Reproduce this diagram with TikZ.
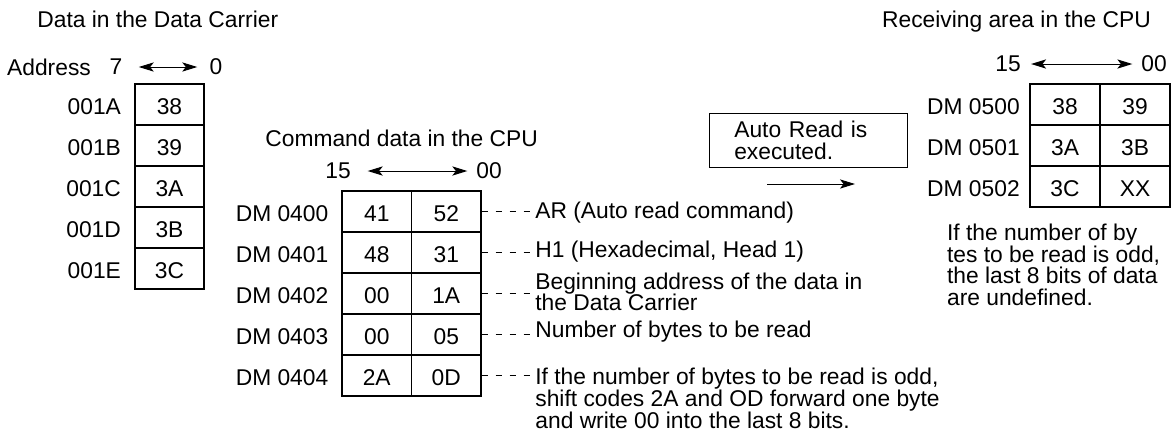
\documentclass[tikz,border=0pt]{standalone}
\usepackage{fontspec}
\setmainfont{Liberation Sans}
\usetikzlibrary{arrows.meta,positioning}
\tikzset{
  cell/.style   = {draw, line width=0.7pt, inner sep=0pt, minimum height=20.5pt,
                   text height=10.2pt, text depth=0pt},
  lcell/.style  = {cell, minimum width=34.5pt},
  ccell/.style  = {cell, minimum width=34.75pt},
  rcell/.style  = {cell, minimum width=35pt},
  addr/.style   = {inner sep=0pt, text height=10.2pt, text depth=0pt},
  bitno/.style  = {inner sep=0pt},
  txt/.style    = {inner sep=0pt, anchor=base west},
  note/.style   = {inner xsep=1.5pt, inner ysep=0pt, anchor=base west, align=left},
  lead/.style   = {line width=0.5pt, dash pattern=on 3pt off 4pt},
  bits/.style   = {{Stealth[length=7.5pt, width=4.6pt, inset=1.8pt]}-{Stealth[length=7.5pt, width=4.6pt, inset=1.8pt]},
                   line width=0.5pt},
  readbox/.style= {draw, line width=0.6pt, align=left, text width=74pt, inner xsep=12.5pt,
                   inner ysep=0pt, minimum height=27.2pt},
}
\begin{document}
\begin{tikzpicture}[x=0.5pt, y=-0.5pt, font=\fontsize{11.4}{10.8}\selectfont]
\useasboundingbox (0,0) rectangle (1171,430);

% data carrier
\node[txt] (dctitle) at (37,27.3) {Data in the Data Carrier};
\node[bitno] (adr) at (49,67) {Address};
\node[bitno] (l7) at (116,67) {7};
\node[bitno] (l0) at (216,67) {0};
\draw[bits, shorten <=8pt, shorten >=6pt] (l7.east) -- (l0.west);
\foreach \v/\a [count=\i] in {38/001A, 39/001B, 3A/001C, 3B/001D, 3C/001E} {
  \node[lcell] (L\i) at (169.5, 84+41*\i-20.5) {\v};
  \node[addr, left=6.5pt of L\i] (La\i) {\a};
}

% command data
\node[txt] (cmdtitle) at (265,146) {Command data in the CPU};
\node[bitno] (c15) at (338,171) {15};
\node[bitno] (c00) at (489,171) {00};
\draw[bits, shorten <=8.3pt, shorten >=4.3pt] (c15.east) -- (c00.west);
\foreach \hi/\lo/\dm [count=\i] in {41/52/0400, 48/31/0401, 00/1A/0402, 00/05/0403, 2A/0D/0404} {
  \node[ccell] (Ch\i) at (376.75, 191+41*\i-20.5) {\hi};
  \node[ccell] (Cl\i) at (446.25, 191+41*\i-20.5) {\lo};
  \node[addr, left=6.3pt of Ch\i] (Cd\i) {DM \dm};
}
% notes: multi-line ones sit on the baseline of their last line
\node[note] (ar)  at (532,218) {AR (Auto read command)};
\node[note] (hd)  at (532,257) {H1 (Hexadecimal, Head 1)};
\node[note] (beg) at (532,310.6) {Beginning address of the data in\\the Data Carrier};
\node[note] (nb)  at (532,337) {Number of bytes to be read};
\node[note] (odd) at (532,428) {If the number of bytes to be read is odd,\\shift codes 2A and OD forward one byte\\and write 00 into the last 8 bits.};
\foreach \n [count=\i] in {ar,hd,beg,nb,odd}
  \draw[lead] (Cl\i.east) -- (Cl\i.east -| \n.west);

% auto read
\node[readbox] (auto) at (808.3,140.5) {Auto Read is\\executed.};
\coordinate (go1) at (767,184);
\coordinate (go2) at (855,184);
\draw[line width=0.5pt, -{Stealth[length=7.5pt, width=4.6pt, inset=1.8pt]}] (go1) -- (go2);

% receiving area
\node[txt] (rctitle) at (881.7,27) {Receiving area in the CPU};
\node[bitno] (r15) at (1008,64) {15};
\node[bitno] (r00) at (1154,64) {00};
\draw[bits, shorten <=5pt, shorten >=4.3pt] (r15.east) -- (r00.west);
\foreach \hi/\lo/\dm [count=\i] in {38/39/0500, 3A/3B/0501, 3C/XX/0502} {
  \node[rcell] (Rh\i) at (1065, 84+41*\i-20.5) {\hi};
  \node[rcell] (Rl\i) at (1135, 84+41*\i-20.5) {\lo};
  \node[addr, left=4.6pt of Rh\i] (Rd\i) {DM \dm};
}
\node[note] (undef) at (943.7,305.4) {If the number of by\\tes to be read is odd,\\the last 8 bits of data\\are undefined.};
\end{tikzpicture}
\end{document}
